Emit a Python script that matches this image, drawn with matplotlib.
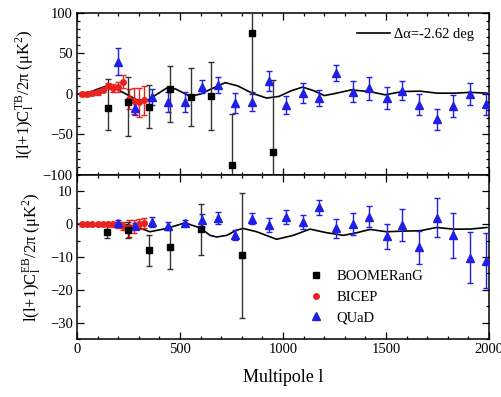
import numpy as np
import matplotlib
matplotlib.use("Agg")
import matplotlib.pyplot as plt
from matplotlib.ticker import MultipleLocator

plt.rcParams['font.family'] = ['Liberation Serif', 'DejaVu Serif']
plt.rcParams['mathtext.fontset'] = 'custom'
plt.rcParams['mathtext.rm'] = 'Liberation Serif'
plt.rcParams['mathtext.it'] = 'Liberation Serif:italic'

# ---------------- TB spectrum ----------------
boom_tb_l = [150, 248, 350, 451, 553, 650, 753, 851, 951]
boom_tb = [-17, -10, -16, 6, -4, -2, -88, 75, -71]
boom_tb_lo = [27, 42, 26, 40, 35, 42, 12, 75, 88]
boom_tb_hi = [35, 31, 27, 29, 36, 42, 63, 75, 88]

bicep_l = [25, 50, 75, 100, 125, 150, 175, 200, 225, 250, 275, 300, 325]
bicep_tb = [0, 0, 1, 2, 5, 10, 7, 9, 15, -6, -9, -10, -8]
bicep_tb_err = [2, 2, 2, 3, 3, 4, 5, 6, 8, 12, 16, 18, 18]

quad_l = [200, 282, 363, 443, 524, 605, 686, 767, 851, 933, 1015, 1097,
          1175, 1257, 1338, 1417, 1503, 1578, 1660, 1746, 1825, 1908, 1984]
quad_tb = [40, -17, -4, -10, -10, 9, 11, -11, -9.5, 16, -13.5, 1,
           -4.5, 26, 3, 7, -5, 4, -13.5, -31, -15, 0, -12.5]
quad_tb_err = [17, 9, 10, 12, 12, 8, 10, 12, 12, 12, 11, 12,
               10, 10, 13, 14, 14, 12, 13, 13, 14, 13, 14]

model_tb_l = [0, 25, 60, 100, 145, 180, 230, 290, 340, 390, 440, 480, 550,
              600, 650, 720, 780, 850, 920, 980, 1040, 1095, 1150, 1200,
              1260, 1330, 1420, 1495, 1580, 1665, 1750, 1830, 1910, 1990]
model_tb = [0, 0, 2, 6, 10, 8, 1, -7, -8, 0, 8, 6, -3,
            0, 6, 14, 10, 1, -5, -3, 4, 8.5, 4, -2,
            1, 5, 3, -1, 3, 3.5, 1, 1, 2, 1]

# ---------------- EB spectrum ----------------
boom_eb_l = [147, 249, 350, 451, 602, 802]
boom_eb = [-2.3, -1.8, -8, -7, -1.6, -9.5]
boom_eb_err = [1.8, 2.5, 4.7, 6.6, 7.8, 19]

bicep_eb = [0, 0, 0, 0, 0, 0, 0, -0.3, -0.6, -1.3, -0.8, 0, 0.4]
bicep_eb_err = [0.5, 0.5, 0.5, 0.5, 0.5, 0.6, 0.8, 1.0, 1.2, 2.5, 2.0, 1.5, 1.5]

quad_eb = [0.4, -0.5, 0.7, -0.6, 0.4, 1.2, 1.9, -3.4, 1.7, -0.3, 2.2, 0.7,
           5.1, -1.3, 0, 2.2, -3.7, -0.3, -7.1, 2, -3.4, -10.2, -11.2]
quad_eb_err = [1, 1, 1.5, 1.2, 1, 2, 1.8, 1.5, 1.7, 2.2, 2, 2.2,
               2.3, 3, 3.4, 3.2, 3.9, 4.9, 5, 6, 6.8, 7.8, 8.4]

model_eb_l = [0, 100, 200, 250, 290, 354, 435, 524, 597, 646, 678, 727, 775,
              807, 872, 969, 1050, 1131, 1212, 1293, 1358, 1422, 1503, 1584,
              1665, 1746, 1827, 1908, 1990]
model_eb = [0, 0, 0, -0.2, -0.8, -2.3, -1.3, 0.4, -1.1, -3.4, -3.9, -3.4, -1.8,
            -1.3, -2.3, -4.6, -3.4, -1.5, -2.6, -3.4, -2.6, -1.6, -2.3, -2.1,
            -2, -1, -1.5, -1.5, -1]

model_label = 'Δα=-2.62 deg'
series_labels = ['BOOMERanG', 'BICEP', 'QUaD']

black = '#000000'
red = '#e8221e'
blue = '#1f1fe6'

fig = plt.figure(figsize=(5.01, 3.97), dpi=100)
ax1 = fig.add_axes([0.1537, 0.5592, 0.8224, 0.4081])
ax2 = fig.add_axes([0.1537, 0.1461, 0.8224, 0.4131], sharex=ax1)

eb_kw = dict(fmt='none', elinewidth=1.0, capsize=2.2, capthick=1.0)

# Top panel
ax1.plot(model_tb_l, model_tb, color=black, lw=1.2, zorder=2, label=model_label)
ax1.errorbar(bicep_l, bicep_tb, yerr=bicep_tb_err, ecolor=red, zorder=3, **eb_kw)
ax1.plot(bicep_l, bicep_tb, 'o', color=red, ms=4, zorder=4)
ax1.errorbar(quad_l, quad_tb, yerr=quad_tb_err, ecolor=blue, zorder=3, **eb_kw)
ax1.plot(quad_l, quad_tb, '^', color=blue, ms=5.5, zorder=4)
ax1.errorbar(boom_tb_l, boom_tb, yerr=[boom_tb_lo, boom_tb_hi], ecolor='#333333',
             zorder=3, **eb_kw)
ax1.plot(boom_tb_l, boom_tb, 's', color=black, ms=4.8, zorder=5)

# Bottom panel
ax2.plot(model_eb_l, model_eb, color=black, lw=1.2, zorder=2)
ax2.errorbar(bicep_l, bicep_eb, yerr=bicep_eb_err, ecolor=red, zorder=3, **eb_kw)
ax2.errorbar(quad_l, quad_eb, yerr=quad_eb_err, ecolor=blue, zorder=3, **eb_kw)
ax2.errorbar(boom_eb_l, boom_eb, yerr=boom_eb_err, ecolor='#333333', zorder=3, **eb_kw)
h_b, = ax2.plot(boom_eb_l, boom_eb, 's', color=black, ms=4.8, zorder=5)
h_r, = ax2.plot(bicep_l, bicep_eb, 'o', color=red, ms=4, zorder=4)
h_q, = ax2.plot(quad_l, quad_eb, '^', color=blue, ms=5.5, zorder=4)

ax1.set_xlim(0, 2000)
ax1.set_ylim(-100, 100)
ax2.set_ylim(-35, 15)

ax1.yaxis.set_major_locator(MultipleLocator(50))
ax1.yaxis.set_minor_locator(MultipleLocator(10))
ax2.yaxis.set_major_locator(MultipleLocator(10))
ax2.yaxis.set_minor_locator(MultipleLocator(5))
ax2.xaxis.set_major_locator(MultipleLocator(500))
ax2.xaxis.set_minor_locator(MultipleLocator(100))

for ax in (ax1, ax2):
    ax.tick_params(which='both', direction='in', top=True, right=True,
                   labelsize=10.5, width=0.9, pad=3)
    ax.tick_params(which='major', length=5)
    ax.tick_params(which='minor', length=2.5)
    for sp in ax.spines.values():
        sp.set_linewidth(1.1)
ax1.tick_params(labelbottom=False)

ax1.set_ylabel(r'l(l+1)C$_\mathrm{l}^\mathrm{TB}$/2π (μK$^2$)', fontsize=12, labelpad=5)
ax2.set_ylabel(r'l(l+1)C$_\mathrm{l}^\mathrm{EB}$/2π (μK$^2$)', fontsize=12, labelpad=5)
ax2.set_xlabel('Multipole l', fontsize=13, labelpad=9)
fig.align_ylabels([ax1, ax2])

ax1.legend(loc='upper right', frameon=False, fontsize=10.5, handlelength=2.3,
           handletextpad=0.3, borderaxespad=0.6)
ax2.legend([h_b, h_r, h_q], series_labels, loc='lower left',
           bbox_to_anchor=(0.53, 0.01), frameon=False, fontsize=10.5,
           handlelength=1.0, handletextpad=0.9, labelspacing=0.5)

fig.savefig('out.png', dpi=100)
